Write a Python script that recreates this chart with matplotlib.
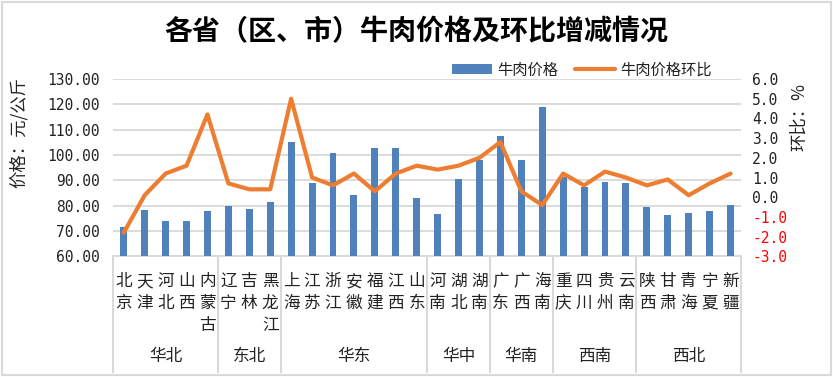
import matplotlib
matplotlib.use('Agg')
import matplotlib.pyplot as plt
import matplotlib.transforms as mtransforms
from matplotlib.patches import Rectangle, Patch
from matplotlib.lines import Line2D
import numpy as np

plt.rcParams['font.family'] = ['Noto Sans CJK SC', 'DejaVu Sans']

title = '各省（区、市）牛肉价格及环比增减情况'
provinces = ['北京', '天津', '河北', '山西', '内蒙古', '辽宁', '吉林', '黑龙江',
             '上海', '江苏', '浙江', '安徽', '福建', '江西', '山东',
             '河南', '湖北', '湖南', '广东', '广西', '海南',
             '重庆', '四川', '贵州', '云南',
             '陕西', '甘肃', '青海', '宁夏', '新疆']
regions = ['华北', '东北', '华东', '华中', '华南', '西南', '西北']
region_sizes = [5, 3, 7, 3, 3, 4, 5]
prices = [71.7, 78.3, 73.9, 73.9, 77.9, 79.9, 78.7, 81.4,
          105.2, 88.9, 100.8, 84.2, 102.8, 102.8, 83.0,
          76.7, 90.5, 98.0, 107.5, 98.0, 118.9,
          91.4, 87.5, 89.4, 88.9,
          79.5, 76.3, 77.1, 77.9, 80.3]
mom = [-1.8, 0.1, 1.2, 1.6, 4.2, 0.7, 0.4, 0.4,
       5.0, 1.0, 0.6, 1.2, 0.3, 1.2, 1.6,
       1.4, 1.6, 2.0, 2.8, 0.3, -0.4,
       1.2, 0.6, 1.3, 1.0,
       0.6, 0.9, 0.1, 0.7, 1.2]
left_ticks = [60, 70, 80, 90, 100, 110, 120, 130]
right_ticks = [-3, -2, -1, 0, 1, 2, 3, 4, 5, 6]

W, H = 833, 377
BAR_C = '#4F81BD'
LINE_C = '#ED7D31'
GRID_C = '#d9d9d9'
TXT_C = '#222222'

fig = plt.figure(figsize=(W / 100, H / 100), dpi=100)
ax_l, ax_r, ax_t, ax_b = 113.3, 741.0, 79.0, 256.3
ax = fig.add_axes([ax_l / W, (H - ax_b) / H, (ax_r - ax_l) / W, (ax_b - ax_t) / H])

x = np.arange(len(provinces))
ax.bar(x, prices, width=0.33, color=BAR_C, zorder=2)
ax.set_xlim(-0.5, len(provinces) - 0.5)
ax.set_ylim(60, 130)
ax.set_yticks(left_ticks)
ax.set_yticklabels([f'{v:.2f}' for v in left_ticks], fontfamily='DejaVu Sans Mono',
                   fontsize=10.5, color=TXT_C)
ax.set_xticks([])
ax.grid(axis='y', color=GRID_C, lw=1.3, zorder=0)
ax.set_axisbelow(True)
ax.axhline(60, color=GRID_C, lw=1.3, clip_on=False, zorder=1)
for s in ax.spines.values():
    s.set_visible(False)
ax.tick_params(axis='y', length=0, pad=10)

ax2 = ax.twinx()
ax2.plot(x, mom, color=LINE_C, lw=3, solid_joinstyle='round', solid_capstyle='round', zorder=3)
ax2.set_ylim(-3, 6)
ax2.set_yticks(right_ticks)
ax2.set_yticklabels([f'{v:.1f}' for v in right_ticks],
                    fontfamily='DejaVu Sans Mono', fontsize=10.5)
for lab, v in zip(ax2.get_yticklabels(), right_ticks):
    lab.set_color('#FF0000' if v < 0 else TXT_C)
for s in ax2.spines.values():
    s.set_visible(False)
ax2.tick_params(axis='y', length=0, pad=8)

# category labels (vertical stacked characters)
trans = mtransforms.blended_transform_factory(ax.transData, fig.transFigure)
for i, name in enumerate(provinces):
    for j, ch in enumerate(name):
        ypx = 281.7 + j * 21.7
        ax.text(i, (H - ypx) / H, ch, transform=trans, ha='center', va='center',
                fontsize=12, color=TXT_C, clip_on=False)

# group separators and labels
bounds = np.concatenate([[0], np.cumsum(region_sizes)])
for b in bounds:
    ln = Line2D([b - 0.5, b - 0.5], [(H - ax_b) / H, (H - 372) / H], transform=trans,
                color=GRID_C, lw=1.5, clip_on=False)
    ax.add_line(ln)
for k, r in enumerate(regions):
    cx = (bounds[k] + bounds[k + 1] - 1) / 2
    ax.text(cx, (H - 356) / H, r, transform=trans, ha='center', va='center',
            fontsize=12, color=TXT_C, clip_on=False)

# title and axis labels
fig.text(0.5, (H - 32) / H, title, ha='center', va='center', fontsize=20.2,
         fontweight='bold', color='black')
fig.text(19 / W, (H - 132) / H, '价格：元/公斤', rotation=90, ha='center', va='center',
         fontsize=12.5, color=TXT_C)
fig.text(799 / W, (H - 117) / H, '环比：%', rotation=90, ha='center', va='center',
         fontsize=12.5, color=TXT_C)

# legend
handles = [Patch(facecolor=BAR_C, edgecolor='none'),
           Line2D([0], [0], color=LINE_C, lw=3, solid_capstyle='round')]
fig.legend(handles, ['牛肉价格', '牛肉价格环比'], loc='center',
           bbox_to_anchor=(582 / W, (H - 70) / H), ncol=2, frameon=False,
           fontsize=11, handlelength=2.6, handletextpad=0.35, columnspacing=1.1,
           handleheight=0.55, labelcolor=TXT_C)

# chart border
fig.patches.append(Rectangle((1.5 / W, 2 / H), (W - 3.5) / W, (H - 4) / H,
                             transform=fig.transFigure, fill=False,
                             edgecolor=GRID_C, lw=1.5))

fig.savefig('out.png', dpi=100)
